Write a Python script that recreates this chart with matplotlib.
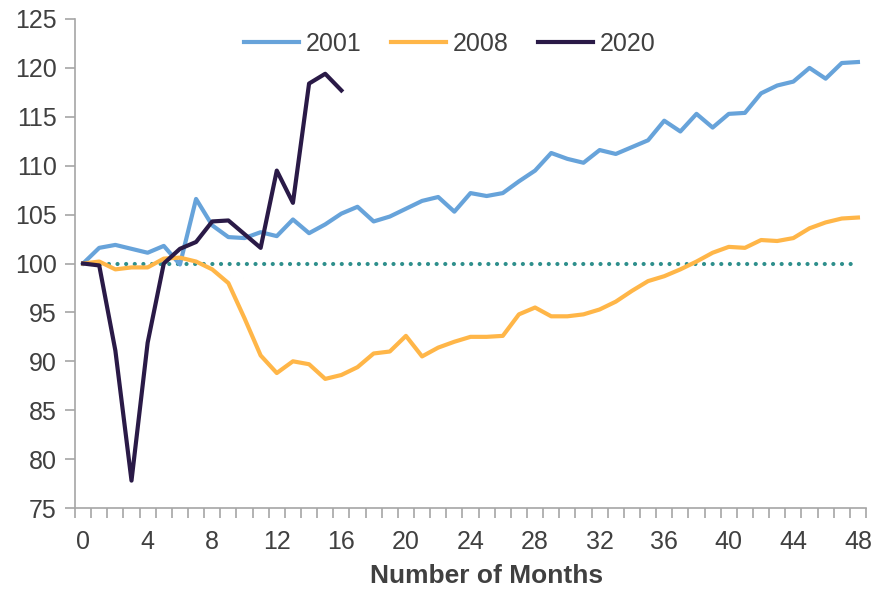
import numpy as np
import matplotlib
matplotlib.use('Agg')
import matplotlib.pyplot as plt
from matplotlib.ticker import MultipleLocator, FixedLocator

plt.rcParams['font.family'] = ['Liberation Sans', 'DejaVu Sans']

# Данные (индекс, начало = 100)
months_2001 = list(range(49))
y_2001 = [100, 101.6, 101.9, 101.5, 101.1, 101.8, 99.9, 106.6, 103.9, 102.7,
          102.6, 103.2, 102.8, 104.5, 103.1, 104.0, 105.1, 105.8, 104.3, 104.8,
          105.6, 106.4, 106.8, 105.3, 107.2, 106.9, 107.2, 108.4, 109.5, 111.3,
          110.7, 110.3, 111.6, 111.2, 111.9, 112.6, 114.6, 113.5, 115.3, 113.9,
          115.3, 115.4, 117.4, 118.2, 118.6, 120.0, 118.9, 120.5, 120.6]

months_2008 = list(range(49))
y_2008 = [100, 100.2, 99.4, 99.6, 99.6, 100.5, 100.6, 100.2, 99.4, 98.0,
          94.4, 90.6, 88.8, 90.0, 89.7, 88.2, 88.6, 89.4, 90.8, 91.0,
          92.6, 90.5, 91.4, 92.0, 92.5, 92.5, 92.6, 94.8, 95.5, 94.6,
          94.6, 94.8, 95.3, 96.1, 97.2, 98.2, 98.7, 99.4, 100.2, 101.1,
          101.7, 101.6, 102.4, 102.3, 102.6, 103.6, 104.2, 104.6, 104.7]

months_2020 = list(range(17))
y_2020 = [100, 99.8, 91.1, 77.8, 91.9, 100.0, 101.5, 102.2, 104.3, 104.4,
          103.0, 101.6, 109.5, 106.2, 118.4, 119.4, 117.7]

baseline = 100
x_ticklabels = list(range(0, 49, 4))

FS = 18

fig = plt.figure(figsize=(8.71, 5.90), dpi=100)
ax = fig.add_axes([75/871, 1 - 508/590, (866-75)/871, (508-19)/590])

ax.plot([0, 48], [baseline, baseline], color='#2E8F8C', lw=3,
        linestyle=(0, (0.01, 2.06)), dash_capstyle='round', zorder=1)
ax.plot(months_2001, y_2001, color='#67A3DA', lw=3, label='2001', zorder=2)
ax.plot(months_2008, y_2008, color='#FFB648', lw=3, label='2008', zorder=2)
ax.plot(months_2020, y_2020, color='#2A1A47', lw=3, label='2020', zorder=3)

ax.set_xlim(-0.5, 48.5)
ax.set_ylim(75, 125)
ax.yaxis.set_major_locator(MultipleLocator(5))
ax.xaxis.set_major_locator(FixedLocator(x_ticklabels))
ax.xaxis.set_minor_locator(FixedLocator(np.arange(-0.5, 49, 1)))

for s in ['top', 'right']:
    ax.spines[s].set_visible(False)
for s in ['left', 'bottom']:
    ax.spines[s].set_color('#A6A6A6')
    ax.spines[s].set_linewidth(1.2)

ax.tick_params(axis='y', direction='out', length=7, width=1.2, color='#A6A6A6',
               labelsize=FS, labelcolor='#404040', pad=6)
ax.tick_params(axis='x', which='major', length=0, labelsize=FS,
               labelcolor='#404040', pad=16)
ax.tick_params(axis='x', which='minor', direction='out', length=7, width=1.2,
               color='#A6A6A6')

ax.set_xlabel('Number of Months', fontsize=19, fontweight='bold',
              color='#404040')
ax.xaxis.set_label_coords(0.52, -0.115)

ax.legend(loc='upper center', bbox_to_anchor=(0.474, 1.02), ncol=3, frameon=False,
          fontsize=FS, labelcolor='#404040', handlelength=2.2,
          handletextpad=0.25, columnspacing=1.2)

fig.savefig('out.png', dpi=100)
